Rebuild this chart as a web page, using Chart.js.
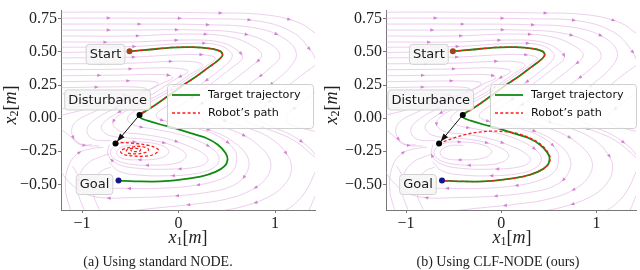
<!DOCTYPE html>
<html><head><meta charset="utf-8">
<script src="https://cdn.jsdelivr.net/npm/chart.js@4"></script>
<style>
html,body{margin:0;padding:0;background:#fff;width:640px;height:270px;overflow:hidden}
canvas{position:absolute;top:0}
#a{left:0}
#b{left:320px}
</style></head><body>
<canvas id="a" width="320" height="270"></canvas>
<canvas id="b" width="320" height="270"></canvas>
<script>
// ---------------- data ----------------
const xTicks = [-1, 0, 1];
const yTicks = [-0.5, -0.25, 0, 0.25, 0.5, 0.75];

// target trajectory (x1, x2)
const targetPath = [
  [-0.508,0.504],[-0.29,0.518],[-0.083,0.533],[0.145,0.536],[0.332,0.525],[0.435,0.504],
  [0.456,0.476],[0.415,0.44],[0.311,0.383],[0.176,0.31],[0.041,0.246],[-0.083,0.181],
  [-0.207,0.117],[-0.311,0.067],[-0.404,0.024],
  [-0.394,0.002],[-0.321,-0.019],[-0.187,-0.048],[-0.031,-0.077],[0.124,-0.113],[0.28,-0.148],
  [0.404,-0.199],[0.487,-0.263],[0.508,-0.313],[0.477,-0.363],[0.383,-0.406],[0.228,-0.442],
  [0.021,-0.464],[-0.187,-0.478],[-0.394,-0.478],[-0.622,-0.471]
];
const disturbanceIndex = 14;
const startPoint = [-0.508,0.504];
const goalPoint = [-0.622,-0.471];
const disturbancePoint = [-0.404,0.024];
const pushedPoint = [-0.653,-0.191];

// robot's path after the disturbance, standard NODE (spirals to a spurious point)
const robotAfterNODE = [
  [-0.653,-0.191],[-0.60,-0.184],[-0.446,-0.191],[-0.311,-0.206],[-0.238,-0.224],[-0.207,-0.242],
  [-0.238,-0.267],[-0.311,-0.285],[-0.487,-0.285],[-0.58,-0.27],[-0.60,-0.249],[-0.539,-0.227],
  [-0.394,-0.213],[-0.311,-0.235],[-0.332,-0.256],[-0.435,-0.27],[-0.528,-0.263],[-0.539,-0.242],
  [-0.466,-0.227],[-0.394,-0.235],[-0.404,-0.249],[-0.477,-0.252],[-0.497,-0.242]
];
// robot's path after the disturbance, CLF-NODE (returns to the goal)
const robotAfterCLF = [
  [-0.656,-0.191],[-0.573,-0.17],[-0.469,-0.142],[-0.354,-0.12],[-0.229,-0.105],[-0.104,-0.098],
  [0.031,-0.102],[0.156,-0.113],[0.271,-0.141],[0.375,-0.177],[0.448,-0.22],[0.5,-0.27],
  [0.515,-0.313],[0.477,-0.363],[0.383,-0.406],[0.228,-0.442],[0.021,-0.464],[-0.187,-0.478],
  [-0.394,-0.478],[-0.622,-0.471]
];

// background streamlines of the learned vector field
const streamlines = [
  [[-1.22,0.80],[-0.5,0.80],[0.3,0.795],[0.9,0.78],[1.25,0.72],[1.42,0.64]],
  [[-1.22,0.755],[-0.5,0.755],[0.3,0.75],[0.85,0.73],[1.2,0.64],[1.38,0.5],[1.42,0.44]],
  [[-1.22,0.71],[-0.5,0.71],[0.3,0.705],[0.8,0.68],[1.1,0.6],[1.22,0.49],[1.15,0.38],[0.95,0.25],[0.75,0.12],[0.65,0.04],[0.72,-0.03],[0.95,-0.09],[1.2,-0.17],[1.42,-0.3]],
  [[-1.22,0.665],[-0.5,0.665],[0.2,0.665],[0.65,0.64],[0.95,0.56],[1.05,0.47],[0.95,0.38],[0.7,0.24],[0.48,0.12],[0.4,0.04],[0.48,-0.02],[0.7,-0.07],[0.95,-0.15],[1.12,-0.27],[1.17,-0.38],[1.1,-0.5],[0.92,-0.6],[0.65,-0.67],[0.45,-0.7]],
  [[-1.22,0.62],[-0.5,0.62],[0.15,0.635],[0.55,0.61],[0.8,0.53],[0.86,0.47],[0.75,0.39],[0.52,0.26],[0.3,0.14],[0.16,0.06],[0.2,0.0],[0.38,-0.05],[0.62,-0.11],[0.82,-0.2],[0.95,-0.32],[0.92,-0.44],[0.76,-0.54],[0.5,-0.61],[0.15,-0.65],[-0.25,-0.68],[-0.5,-0.7]],
  [[-1.22,0.575],[-0.5,0.575],[0.15,0.59],[0.45,0.57],[0.63,0.5],[0.66,0.45],[0.55,0.38],[0.32,0.25],[0.07,0.12],[-0.08,0.04],[-0.05,-0.01],[0.12,-0.05],[0.36,-0.1],[0.57,-0.18],[0.72,-0.3],[0.7,-0.42],[0.56,-0.51],[0.3,-0.56],[-0.1,-0.59],[-0.5,-0.6],[-0.8,-0.6],[-1.0,-0.56],[-1.15,-0.47],[-1.22,-0.4]],
  [[-1.22,0.535],[-0.5,0.54],[0.15,0.565],[0.42,0.55],[0.55,0.49],[0.54,0.44],[0.42,0.36],[0.2,0.24],[-0.05,0.12],[-0.22,0.04],[-0.22,0.0],[-0.05,-0.035],[0.2,-0.08],[0.42,-0.14],[0.58,-0.24],[0.6,-0.33],[0.55,-0.41],[0.4,-0.47],[0.15,-0.51],[-0.2,-0.53],[-0.55,-0.53],[-0.8,-0.52],[-1.0,-0.46],[-1.1,-0.36]],
  [[-1.22,0.495],[-0.85,0.5],[-0.55,0.503]],
  [[-1.22,0.455],[-0.5,0.46],[0.05,0.48],[0.3,0.475],[0.38,0.45],[0.3,0.4],[0.08,0.29],[-0.17,0.17],[-0.42,0.07],[-0.53,0.0],[-0.47,-0.05],[-0.28,-0.08],[-0.03,-0.115],[0.2,-0.17],[0.38,-0.25],[0.42,-0.32],[0.35,-0.38],[0.17,-0.42],[-0.1,-0.435],[-0.4,-0.43],[-0.62,-0.4],[-0.72,-0.33]],
  [[-1.22,0.41],[-0.5,0.415],[0.0,0.43],[0.2,0.42],[0.25,0.395],[0.12,0.33],[-0.1,0.22],[-0.38,0.11],[-0.6,0.03],[-0.68,-0.04],[-0.6,-0.1],[-0.4,-0.12],[-0.15,-0.15],[0.1,-0.21],[0.28,-0.28],[0.3,-0.33],[0.18,-0.37],[-0.1,-0.385],[-0.4,-0.38],[-0.62,-0.35],[-0.73,-0.28],[-0.72,-0.2]],
  [[-1.22,0.365],[-0.6,0.37],[-0.15,0.38],[0.05,0.37],[0.1,0.35],[-0.02,0.3],[-0.25,0.19],[-0.5,0.09],[-0.72,0.0],[-0.8,-0.07],[-0.72,-0.13],[-0.5,-0.15]],
  [[-1.22,0.32],[-0.6,0.325],[-0.25,0.33],[-0.08,0.32],[-0.06,0.3],[-0.18,0.26],[-0.42,0.16],[-0.7,0.06],[-0.9,-0.03],[-0.95,-0.1],[-0.88,-0.16],[-0.7,-0.17]],
  [[-1.22,0.275],[-0.7,0.28],[-0.35,0.28],[-0.22,0.27],[-0.22,0.25],[-0.36,0.2],[-0.62,0.12],[-0.9,0.04],[-1.08,-0.04],[-1.1,-0.13],[-1.0,-0.2],[-0.82,-0.21]],
  [[-1.22,0.23],[-0.75,0.235],[-0.45,0.235],[-0.33,0.22],[-0.4,0.19],[-0.65,0.13],[-0.95,0.07],[-1.22,0.02]],
  [[-1.22,0.185],[-0.85,0.185],[-0.6,0.18],[-0.52,0.165],[-0.62,0.14],[-0.9,0.1],[-1.22,0.07]],
  [[-0.5,-0.15],[-0.25,-0.17],[-0.02,-0.22],[0.08,-0.28],[0.0,-0.335],[-0.25,-0.355],[-0.52,-0.345],[-0.68,-0.3],[-0.7,-0.24],[-0.6,-0.19],[-0.42,-0.18],[-0.2,-0.2],[-0.1,-0.25],[-0.18,-0.3],[-0.4,-0.315],[-0.6,-0.3],[-0.64,-0.25],[-0.55,-0.21],[-0.4,-0.205]],
  [[-1.12,-0.69],[-1.17,-0.55],[-1.15,-0.38],[-1.05,-0.27],[-0.9,-0.23],[-0.78,-0.22]],
  [[-0.98,-0.69],[-1.04,-0.56],[-1.02,-0.42],[-0.92,-0.33],[-0.8,-0.29],[-0.72,-0.27]],
  [[-0.82,-0.69],[-0.88,-0.58],[-0.87,-0.47],[-0.8,-0.4],[-0.7,-0.37]],
  [[-1.22,-0.08],[-1.12,-0.14],[-1.02,-0.2],[-0.9,-0.2]],
  [[1.42,0.4],[1.25,0.31],[1.05,0.19],[0.88,0.08],[0.83,0.0],[0.95,-0.06],[1.15,-0.12],[1.35,-0.22],[1.42,-0.28]],
  [[1.42,0.2],[1.25,0.1],[1.12,0.02],[1.14,-0.04],[1.3,-0.08],[1.42,-0.1]],
  [[1.42,-0.4],[1.32,-0.55],[1.2,-0.65],[1.1,-0.7]],
  [[1.42,-0.58],[1.35,-0.7]]
];

const labelOffsets = {Start:[-24,3], Disturbance:[-32,-15], Goal:[-24,4]};

const panels = [
  {id:'a', xMin:-1.218, xMax:1.414, axisLeft:61, padRight:5, robotAfter:robotAfterNODE,
   legendBox:[167,84,146,44], caption:'(a) Using standard NODE.', captionX:158, titleX:188, yTitleX:11},
  {id:'b', xMin:-1.21, xMax:1.415, axisLeft:66, padRight:2, robotAfter:robotAfterCLF,
   legendBox:[170,84,146,44], caption:'(b) Using CLF-NODE (ours)', captionX:178, titleX:192, yTitleX:12}
];
const yMin = -0.6935, yMax = 0.8118;

// ---------------- helpers ----------------
const pts = a => a.map(p => ({x:p[0], y:p[1]}));
const fmtY = v => (v < 0 ? '\u2212' : '') + Math.abs(v).toFixed(2);
const fmtX = v => (v < 0 ? '\u2212' : '') + Math.abs(v);

function roundRect(c,x,y,w,h,r){
  c.beginPath();
  c.moveTo(x+r,y); c.lineTo(x+w-r,y); c.quadraticCurveTo(x+w,y,x+w,y+r);
  c.lineTo(x+w,y+h-r); c.quadraticCurveTo(x+w,y+h,x+w-r,y+h);
  c.lineTo(x+r,y+h); c.quadraticCurveTo(x,y+h,x,y+h-r);
  c.lineTo(x,y+r); c.quadraticCurveTo(x,y,x+r,y); c.closePath();
}

function drawLabel(c, text, px, py){
  c.save();
  c.font = '13px "DejaVu Sans"';
  const w = c.measureText(text).width;
  roundRect(c, px-w/2-3.5, py-10, w+7, 20, 3);
  c.fillStyle = 'rgba(246,246,246,0.88)'; c.fill();
  c.strokeStyle = '#d2d2d2'; c.lineWidth = 1; c.stroke();
  c.fillStyle = '#1a1a1a'; c.textAlign = 'center'; c.textBaseline = 'middle';
  c.fillText(text, px, py+0.5);
  c.restore();
}

function drawMathTitle(c, cx, cy, sub, rot){
  c.save(); c.translate(cx, cy); if (rot) c.rotate(-Math.PI/2);
  const parts = [
    {t:'x', f:'italic 18px "Liberation Serif"', dy:0},
    {t:sub, f:'12px "Liberation Serif"', dy:4},
    {t:'[', f:'18px "Liberation Serif"', dy:0},
    {t:'m', f:'italic 18px "Liberation Serif"', dy:0},
    {t:']', f:'18px "Liberation Serif"', dy:0}
  ];
  let w = 0;
  parts.forEach(p => { c.font = p.f; p.w = c.measureText(p.t).width; w += p.w; });
  let x = -w/2;
  c.fillStyle = '#222'; c.textBaseline = 'middle'; c.textAlign = 'left';
  parts.forEach(p => { c.font = p.f; c.fillText(p.t, x, p.dy); x += p.w; });
  c.restore();
}

// small arrow heads placed along the drawn streamline curves
function drawStreamArrows(chart, meta, k){
  const els = meta.data, c = chart.ctx, area = chart.chartArea;
  const s = [];
  for (let i = 0; i < els.length - 1; i++){
    const a = els[i], b = els[i+1];
    const c1x = a.cp2x ?? a.x, c1y = a.cp2y ?? a.y, c2x = b.cp1x ?? b.x, c2y = b.cp1y ?? b.y;
    for (let t = 0; t < 1; t += 0.05){
      const u = 1 - t;
      s.push([u*u*u*a.x + 3*u*u*t*c1x + 3*u*t*t*c2x + t*t*t*b.x,
              u*u*u*a.y + 3*u*u*t*c1y + 3*u*t*t*c2y + t*t*t*b.y]);
    }
  }
  if (els.length) s.push([els[els.length-1].x, els[els.length-1].y]);
  const step = 70;
  let next = 18 + (k * 29) % 60, acc = 0;
  c.save();
  c.fillStyle = 'rgba(205,110,205,0.85)';
  for (let i = 1; i < s.length; i++){
    const dx = s[i][0] - s[i-1][0], dy = s[i][1] - s[i-1][1], d = Math.hypot(dx, dy);
    acc += d;
    if (acc >= next && d > 0){
      next += step;
      const x = s[i][0], y = s[i][1];
      if (x < area.left + 2 || x > area.right - 2 || y < area.top + 2 || y > area.bottom - 2) continue;
      const ux = dx/d, uy = dy/d;
      c.beginPath();
      c.moveTo(x + 2.4*ux, y + 2.4*uy);
      c.lineTo(x - 1.6*ux - 1.7*uy, y - 1.6*uy + 1.7*ux);
      c.lineTo(x - 1.6*ux + 1.7*uy, y - 1.6*uy - 1.7*ux);
      c.closePath(); c.fill();
    }
  }
  c.restore();
}

function makeChart(P){
  const datasets = [];
  streamlines.forEach(s => datasets.push({
    isStream: true,
    data: pts(s), showLine: true, borderColor: 'rgba(222,160,222,0.5)', borderWidth: 1,
    tension: 0.4, order: 10, pointRadius: 0
  }));
  datasets.push({data: pts(targetPath), showLine: true, borderColor: '#118a11', borderWidth: 1.8,
    tension: 0.3, pointRadius: 0, order: 5});
  datasets.push({data: pts(targetPath.slice(0, disturbanceIndex+1)), showLine: true, borderColor: '#ff1a1a',
    borderWidth: 1.3, borderDash: [3,2.2], tension: 0.3, pointRadius: 0, order: 4});
  datasets.push({data: pts(P.robotAfter), showLine: true, borderColor: '#ff1a1a',
    borderWidth: 1.3, borderDash: [3,2.2], tension: 0.35, pointRadius: 0, order: 4});
  datasets.push({data: pts([disturbancePoint, pushedPoint]), showLine: true, borderColor: '#111',
    borderWidth: 1, pointRadius: 0, order: 3});
  datasets.push({data: pts([disturbancePoint, pushedPoint]), showLine: false, pointRadius: 3,
    pointBackgroundColor: '#000', pointBorderWidth: 0, order: 2});
  datasets.push({data: pts([startPoint]), showLine: false, pointRadius: 3,
    pointBackgroundColor: '#a0421c', pointBorderWidth: 0, order: 1});
  datasets.push({data: pts([goalPoint]), showLine: false, pointRadius: 3,
    pointBackgroundColor: '#16168a', pointBorderWidth: 0, order: 1});

  const overlay = {
    id: 'overlay',
    afterDatasetDraw(chart, args){
      const ds = chart.data.datasets[args.index];
      if (ds.isStream) drawStreamArrows(chart, args.meta, args.index);
    },
    afterDatasetsDraw(chart){
      const c = chart.ctx, xs = chart.scales.x, ys = chart.scales.y;
      const px = p => [xs.getPixelForValue(p[0]), ys.getPixelForValue(p[1])];
      // arrow head at pushed point
      const [x0,y0] = px(disturbancePoint), [x1,y1] = px(pushedPoint);
      const ang = Math.atan2(y1-y0, x1-x0);
      const tx = x1 - 2.5*Math.cos(ang), ty = y1 - 2.5*Math.sin(ang);
      c.save(); c.fillStyle = '#111'; c.beginPath();
      c.moveTo(tx, ty);
      c.lineTo(tx - 8*Math.cos(ang) + 3*Math.sin(ang), ty - 8*Math.sin(ang) - 3*Math.cos(ang));
      c.lineTo(tx - 8*Math.cos(ang) - 3*Math.sin(ang), ty - 8*Math.sin(ang) + 3*Math.cos(ang));
      c.closePath(); c.fill(); c.restore();
      // annotation labels
      [['Start', startPoint], ['Disturbance', disturbancePoint], ['Goal', goalPoint]].forEach(([t, p]) => {
        const [a, b] = px(p), o = labelOffsets[t];
        drawLabel(c, t, a + o[0], b + o[1]);
      });
      // legend
      const [lx, ly, lw, lh] = P.legendBox;
      c.save();
      roundRect(c, lx+0.5, ly+0.5, lw, lh, 3);
      c.fillStyle = 'rgba(255,255,255,0.8)'; c.fill();
      c.strokeStyle = '#cfcfcf'; c.lineWidth = 1; c.stroke();
      c.beginPath(); c.moveTo(lx+5, ly+11); c.lineTo(lx+33, ly+11);
      c.strokeStyle = '#118a11'; c.lineWidth = 1.8; c.stroke();
      c.beginPath(); c.setLineDash([3,2.2]); c.moveTo(lx+5, ly+29); c.lineTo(lx+33, ly+29);
      c.strokeStyle = '#ff1a1a'; c.lineWidth = 1.3; c.stroke(); c.setLineDash([]);
      c.font = '11.2px "DejaVu Sans"'; c.fillStyle = '#111'; c.textBaseline = 'middle'; c.textAlign = 'left';
      c.fillText('Target trajectory', lx+41, ly+11);
      c.fillText('Robot\u2019s path', lx+41, ly+29);
      c.restore();
    },
    afterDraw(chart){
      const c = chart.ctx;
      drawMathTitle(c, P.titleX, 238, '1', false);
      drawMathTitle(c, P.yTitleX, 105, '2', true);
      c.save();
      c.font = '14px "Liberation Serif"'; c.fillStyle = '#222';
      c.textAlign = 'center'; c.textBaseline = 'middle';
      c.fillText(P.caption, P.captionX, 262);
      c.restore();
    }
  };

  return new Chart(document.getElementById(P.id), {
    type: 'scatter',
    data: {datasets},
    options: {
      responsive: false, animation: false, devicePixelRatio: 1,
      layout: {padding: {left: 0, right: P.padRight, top: 0, bottom: 0}},
      plugins: {legend: {display: false}, tooltip: {enabled: false}},
      events: [],
      scales: {
        x: {type: 'linear', min: P.xMin, max: P.xMax,
          afterFit(s){ s.height = 60; },
          afterBuildTicks(s){ s.ticks = xTicks.map(v => ({value: v})); },
          ticks: {callback: fmtX, font: {family: 'Liberation Serif', size: 16}, color: '#222', padding: 1, maxRotation: 0, autoSkip: false},
          grid: {drawOnChartArea: false, tickLength: 3, color: '#777'},
          border: {color: '#777'}},
        y: {type: 'linear', min: yMin, max: yMax,
          afterFit(s){ s.width = P.axisLeft; },
          afterBuildTicks(s){ s.ticks = yTicks.map(v => ({value: v})); },
          ticks: {callback: fmtY, font: {family: 'Liberation Serif', size: 16}, color: '#222', padding: 1, autoSkip: false},
          grid: {drawOnChartArea: false, tickLength: 3, color: '#777'},
          border: {color: '#777'}}
      }
    },
    plugins: [overlay]
  });
}
panels.forEach(makeChart);
</script>
</body></html>
